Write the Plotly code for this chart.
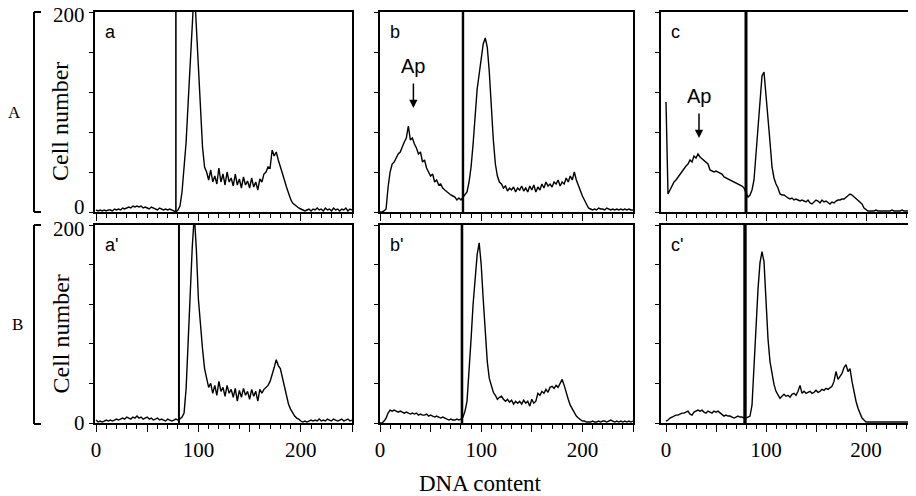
import plotly.graph_objects as go

W, H = 916, 496

# DNA content channels (every 2nd channel)
CHANNELS = list(range(0, 251, 2))

# Cell number per channel
A_CTRL = [2, 1, 2, 1, 2, 1, 2, 2, 1, 3,
          2, 3, 2, 4, 3, 4, 5, 4, 6, 5,
          6, 5, 6, 4, 5, 4, 3, 5, 4, 3,
          2, 4, 3, 2, 3, 2, 3, 2, 1, 0,
          2, 6, 20, 42, 70, 110, 150, 200, 225, 185,
          140, 100, 65, 45, 40, 32, 42, 30, 36, 28,
          44, 30, 38, 27, 40, 30, 34, 26, 38, 27,
          33, 24, 35, 27, 31, 24, 34, 25, 30, 22,
          33, 30, 38, 40, 45, 44, 62, 56, 60, 52,
          46, 40, 32, 25, 18, 13, 9, 7, 5, 4,
          3, 2, 1, 2, 3, 1, 3, 2, 4, 2,
          3, 1, 4, 2, 3, 1, 4, 2, 3, 1,
          3, 2, 4, 1, 3, 2]

B_CTRL = [0, 0, 1, 3, 25, 40, 48, 50, 54, 58,
          60, 66, 70, 74, 86, 72, 74, 68, 64, 58,
          60, 50, 52, 44, 40, 36, 38, 30, 32, 27,
          28, 24, 22, 20, 19, 17, 16, 15, 12, 14,
          12, 15, 17, 20, 30, 45, 68, 95, 123, 138,
          152, 168, 174, 165, 140, 105, 72, 48, 36, 30,
          28, 24, 26, 21, 24, 22, 25, 20, 24, 22,
          26, 21, 24, 20, 26, 22, 27, 20, 25, 22,
          28, 24, 30, 26, 28, 25, 30, 28, 32, 26,
          30, 28, 34, 30, 36, 32, 40, 32, 26, 20,
          16, 12, 8, 4, 3, 2, 3, 2, 4, 3,
          3, 2, 4, 3, 2, 3, 2, 3, 2, 3,
          2, 3, 2, 3, 2, 2]

C_CTRL = [110, 18, 22, 26, 30, 32, 35, 38, 40, 44,
          46, 48, 52, 50, 56, 54, 58, 55, 53, 52,
          50, 48, 42, 41, 40, 41, 40, 39, 38, 35,
          34, 33, 32, 31, 30, 29, 28, 27, 26, 24,
          20, 15, 17, 22, 32, 60, 82, 115, 136, 140,
          118, 100, 70, 45, 34, 28, 24, 18, 17, 17,
          15, 14, 13, 14, 12, 13, 12, 11, 12, 11,
          10, 12, 9, 8, 10, 12, 11, 9, 12, 10,
          11, 9, 8, 10, 9, 11, 12, 12, 13, 13,
          15, 16, 18, 17, 15, 14, 12, 10, 8, 4,
          2, 1, 1, 1, 1, 2, 1, 1, 1, 1,
          1, 1, 1, 2, 1, 1, 1, 1, 2, 1,
          1, 1, 1, 1, 2, 1]

A_TREAT = [3, 1, 2, 1, 2, 3, 2, 3, 2, 3,
           4, 3, 4, 5, 4, 6, 5, 4, 6, 5,
           7, 5, 6, 4, 5, 6, 4, 5, 3, 4,
           5, 3, 4, 3, 2, 4, 3, 2, 3, 4,
           3, 4, 6, 10, 35, 88, 140, 178, 210, 175,
           125, 95, 75, 55, 44, 36, 40, 30, 38, 28,
           42, 32, 36, 27, 38, 30, 34, 26, 35, 22,
           33, 26, 35, 28, 32, 24, 34, 27, 32, 22,
           34, 30, 34, 36, 38, 42, 48, 56, 64, 58,
           55, 46, 36, 28, 19, 14, 10, 7, 5, 4,
           2, 1, 2, 1, 2, 3, 2, 3, 2, 4,
           2, 3, 2, 4, 3, 2, 4, 3, 2, 3,
           4, 2, 3, 4, 2, 3]

B_TREAT = [0, 0, 2, 5, 10, 13, 12, 13, 12, 11,
           12, 11, 10, 11, 10, 9, 10, 9, 10, 8,
           9, 8, 8, 9, 7, 8, 7, 6, 7, 6,
           5, 6, 5, 4, 3, 4, 3, 3, 4, 3,
           4, 6, 12, 22, 50, 85, 120, 145, 170, 182,
           160, 125, 88, 62, 45, 38, 31, 28, 24, 26,
           27, 24, 22, 24, 21, 23, 19, 22, 20, 22,
           19, 23, 20, 22, 17, 24, 20, 22, 30, 28,
           32, 30, 34, 31, 36, 37, 35, 38, 36, 40,
           44, 38, 30, 24, 18, 14, 10, 7, 5, 3,
           2, 2, 1, 1, 1, 2, 1, 1, 2, 1,
           2, 2, 1, 2, 3, 2, 1, 2, 1, 2,
           1, 2, 1, 2, 1, 2]

C_TREAT = [2, 3, 5, 6, 7, 8, 8, 9, 10, 10,
           11, 12, 9, 8, 11, 12, 13, 12, 13, 11,
           10, 12, 11, 10, 12, 11, 12, 10, 8, 7,
           8, 7, 7, 6, 5, 6, 7, 6, 6, 5,
           5, 6, 7, 18, 60, 100, 135, 162, 173, 163,
           125, 85, 62, 48, 39, 32, 28, 25, 27, 29,
           27, 28, 26, 29, 30, 28, 32, 38, 30, 32,
           30, 31, 32, 30, 31, 33, 31, 32, 34, 33,
           35, 34, 36, 37, 42, 52, 44, 47, 50, 56,
           59, 52, 55, 42, 30, 22, 15, 9, 5, 3,
           1, 1, 1, 1, 1, 1, 1, 1, 1, 1,
           1, 1, 1, 1, 1, 1, 1, 1, 1, 1,
           1, 1, 1, 1, 1, 1]

SERIES = [A_CTRL, B_CTRL, C_CTRL, A_TREAT, B_TREAT, C_TREAT]
PANEL_LABELS = ["a", "b", "c", "a'", "b'", "c'"]
GATES = [78, 82, 80, 81, 81, 79]
AP_CHANNEL = [None, 33, 33, None, None, None]
ROW_LABELS = ["A", "B"]
X_TICKS = [0, 50, 100, 150, 200, 250]
X_TICKTEXT = ["0", "", "100", "", "200", ""]
Y_TICKS = [0, 40, 80, 120, 160, 200]
Y_LABELLED = [0, 200]

for s in SERIES:
    assert len(s) == len(CHANNELS)

# the page shows the figure offset by the default 8px body margin
OFF = 8


def px(x):
    return (x - OFF) / W


def py(y):
    return 1 - (y - OFF) / H


SERIF = "Liberation Serif"
SANS = "Liberation Sans"

col_px = [(95, 352), (380, 633), (661, 916)]
col_range = [[-1, 250], [0, 250], [-5, 250]]
row_px = [(12, 212), (225, 423)]
gate_w = [1.6, 2.4, 3.0, 2.0, 2.6, 3.4]
ylab_shift = [(5, -3), (0, -4)]   # (shift of "0", shift of "200") per row
row_label_x = [14, 17]

fig = go.Figure()
layout = dict(
    template="none",
    width=W, height=H, margin=dict(l=0, r=0, t=0, b=0, pad=0),
    autosize=False,
    paper_bgcolor="white", plot_bgcolor="white", showlegend=False,
    font=dict(family=SERIF, size=21, color="black"),
)
shapes = []
annotations = []

for i, vals in enumerate(SERIES):
    r, c = divmod(i, 3)
    n = i + 1
    xa = "xaxis" if n == 1 else f"xaxis{n}"
    ya = "yaxis" if n == 1 else f"yaxis{n}"
    xr = "x" if n == 1 else f"x{n}"
    yr = "y" if n == 1 else f"y{n}"
    fig.add_trace(go.Scatter(x=CHANNELS, y=vals, mode="lines",
                             line=dict(color="black", width=1.4),
                             xaxis=xr, yaxis=yr, hoverinfo="skip"))
    x0, x1 = col_px[c]
    y0, y1 = row_px[r]
    layout[xa] = dict(
        domain=[px(x0), min(px(x1), 1.0)], range=col_range[c], anchor=yr,
        automargin=False,
        showline=True, linecolor="black", linewidth=1.7, mirror=True,
        ticks="outside", ticklen=7, tickwidth=1.2, tickcolor="black",
        tickmode="array", tickvals=X_TICKS, ticktext=X_TICKTEXT,
        minor=dict(ticks="outside", ticklen=4, tickwidth=1, tickcolor="black",
                   tick0=0, dtick=10, showgrid=False),
        showticklabels=(r == 1), showgrid=False, zeroline=False,
        tickfont=dict(family=SERIF, size=21, color="black"),
    )
    layout[ya] = dict(
        domain=[py(y1), py(y0)], range=[0, 200], anchor=xr,
        automargin=False,
        showline=True, linecolor="black", linewidth=1.7, mirror=(c != 2),
        ticks="outside", ticklen=4, tickwidth=1.2, tickcolor="black",
        tickmode="array", tickvals=Y_TICKS,
        showticklabels=False, showgrid=False, zeroline=False,
    )
    if c == 0:
        for yv, sh in zip(Y_LABELLED, ylab_shift[r]):
            annotations.append(dict(xref="paper", yref=yr, x=px(87), y=yv,
                                    yshift=sh, xanchor="right",
                                    yanchor="middle", showarrow=False,
                                    text=str(yv),
                                    font=dict(family=SERIF, size=21,
                                              color="black")))
    shapes.append(dict(type="line", xref=xr, yref=f"{yr} domain",
                       x0=GATES[i], x1=GATES[i], y0=0, y1=1,
                       line=dict(color="black", width=gate_w[i])))
    annotations.append(dict(xref="paper", yref="paper",
                            x=px(x0 + 8), y=py(y0 + 20), xanchor="left",
                            yanchor="middle", showarrow=False,
                            text=PANEL_LABELS[i],
                            font=dict(family=SANS, size=18, color="black")))
    if AP_CHANNEL[i] is not None:
        ap = AP_CHANNEL[i]
        tip = 104 if c == 1 else 74
        txt = 146 if c == 1 else 116
        annotations.append(dict(xref=xr, yref=yr, x=ap, y=tip, ax=0, ay=-26,
                                text="", showarrow=True, arrowhead=2,
                                arrowsize=1.1, arrowwidth=1.5,
                                arrowcolor="black"))
        annotations.append(dict(xref=xr, yref=yr, x=ap, y=txt, text="Ap",
                                xanchor="center", yanchor="middle",
                                showarrow=False,
                                font=dict(family=SANS, size=20, color="black")))

# row brackets, row labels and axis titles
for r, (y0, y1) in enumerate([(12, 212), (225, 424)]):
    shapes.append(dict(type="line", xref="paper", yref="paper",
                       x0=px(34), x1=px(34), y0=py(y0), y1=py(y1),
                       line=dict(color="black", width=2)))
    for yy in (y0, y1):
        shapes.append(dict(type="line", xref="paper", yref="paper",
                           x0=px(34), x1=px(41), y0=py(yy), y1=py(yy),
                           line=dict(color="black", width=2)))
    mid = (y0 + y1) / 2
    annotations.append(dict(xref="paper", yref="paper",
                            x=px(row_label_x[r]), y=py(mid),
                            xanchor="center", yanchor="middle",
                            text=ROW_LABELS[r], showarrow=False,
                            font=dict(family=SERIF, size=17, color="black")))
    annotations.append(dict(xref="paper", yref="paper", x=px(60),
                            y=py(mid + 10), xanchor="center", yanchor="middle",
                            text="Cell number",
                            textangle=-90, showarrow=False,
                            font=dict(family=SERIF, size=24, color="black")))

annotations.append(dict(xref="paper", yref="paper", x=px(481), y=py(483),
                        xanchor="center", yanchor="middle",
                        text="DNA content", showarrow=False,
                        font=dict(family=SERIF, size=23, color="black")))

layout["shapes"] = shapes
layout["annotations"] = annotations
fig.update_layout(**layout)
fig.write_html("out.html")
